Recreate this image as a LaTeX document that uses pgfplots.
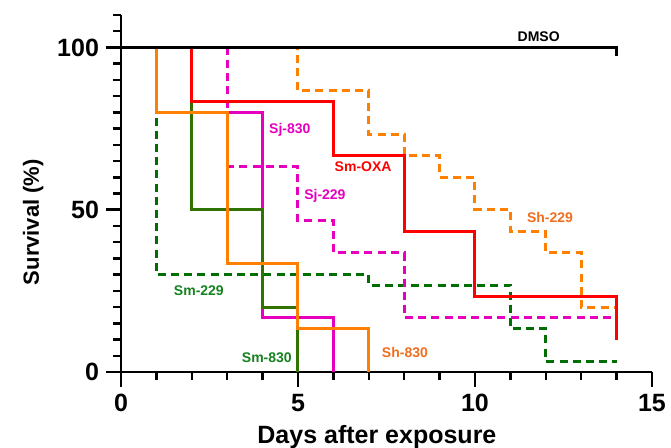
\documentclass[border=0pt]{standalone}
\usepackage{fontspec}
\setmainfont{Liberation Sans}
\usepackage{pgfplots}
\pgfplotsset{compat=1.18}
\definecolor{shorange}{RGB}{255,128,0}
\definecolor{shlab}{RGB}{240,110,30}
\definecolor{smred}{RGB}{255,0,0}
\definecolor{sjmag}{RGB}{230,0,190}
\definecolor{smgreen}{RGB}{50,115,0}
\definecolor{smgreend}{RGB}{0,110,0}
\definecolor{smlab}{RGB}{20,130,30}

\begin{document}
\begin{tikzpicture}
  \begin{axis}[
    name=ax,
    scale only axis,
    width=265.5pt, height=178.5pt,
    xmin=0, xmax=15, ymin=0, ymax=110,
    axis x line*=bottom, axis y line*=left,
    axis line style={-, line width=1.25pt},
    xtick={0,5,10,15}, ytick={0,50,100},
    minor xtick={0,1,...,15},
    minor ytick={0,5,...,110},
    tick align=outside,
    major tick length=7.5pt, minor tick length=4pt,
    every tick/.style={black, line width=1.25pt},
    tick label style={font=\bfseries\fontsize{12.5}{13}\selectfont},
    /pgf/number format/assume math mode=true,
    xlabel={Days after exposure}, ylabel={Survival (\%)},
    xlabel style={font=\bfseries\fontsize{12.5}{13}\selectfont,
      at={(ticklabel cs:0.482)}, anchor=near ticklabel},
    ylabel style={font=\bfseries\fontsize{11}{12}\selectfont,
      at={(ticklabel cs:0.42)}, anchor=near ticklabel},
    clip=false,
    every axis plot/.append style={const plot, line width=1.5pt},
    dashed curve/.style={dash pattern=on 4pt off 2.6pt},
  ]
    % dashed series first
    \addplot[smgreend, dashed curve] coordinates {
      (0,100) (1,30) (7,26.7) (11,13.3) (12,3.3) (14,3.3)};
    \addplot[sjmag, dashed curve] coordinates {
      (0,100) (3,63.3) (5,46.7) (6,36.7) (8,16.7) (14,16.7)};
    \addplot[shorange, dashed curve] coordinates {
      (0,100) (5,86.7) (7,73.3) (8,66.7) (9,60) (10,50) (11,43.3) (12,36.7) (13,20) (14,20)};
    % solid series
    \addplot[sjmag] coordinates {(3,80) (4,16.7) (6,0)};
    \addplot[smgreen] coordinates {(0,100) (2,50) (4,20) (5,0)};
    \addplot[shorange] coordinates {(0,100) (1,80) (3,33.3) (5,13.3) (7,0)};
    \addplot[smred] coordinates {
      (0,100) (2,83.3) (6,66.7) (8,43.3) (10,23.3) (14,10)};
    \addplot[black] coordinates {(0,100) (14,100) (14,97.5)};

    \begin{scope}[every node/.style={font=\bfseries\fontsize{7}{8}\selectfont}]
      \node at (axis cs:11.8,103.2) {DMSO};
      \node[text=sjmag] at (axis cs:4.77,74.6) {Sj-830};
      \node[text=smred] at (axis cs:6.84,63.2) {Sm-OXA};
      \node[text=sjmag] at (axis cs:5.76,54.2) {Sj-229};
      \node[text=shlab] at (axis cs:12.12,47.5) {Sh-229};
      \node[text=smlab] at (axis cs:2.2,25) {Sm-229};
      \node[text=smlab] at (axis cs:4.12,4.3) {Sm-830};
      \node[text=shlab] at (axis cs:8.02,5.9) {Sh-830};
    \end{scope}
  \end{axis}
  \pgfresetboundingbox
  \path[use as bounding box] (ax.south west) ++(-60.5pt,-37.5pt) rectangle ++(335.5pt,223.5pt);
\end{tikzpicture}
\end{document}
